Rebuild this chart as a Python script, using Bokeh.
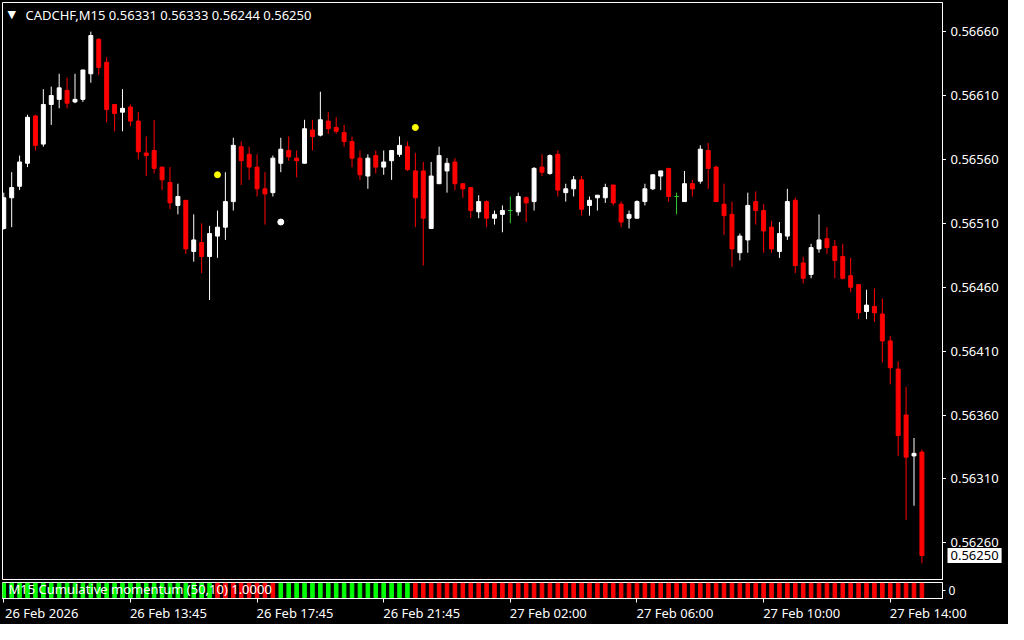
from bokeh.plotting import figure
from bokeh.models import Range1d, FixedTicker, PrintfTickFormatter, Label, ColumnDataSource, LinearAxis
from bokeh.layouts import column, row
from bokeh.embed import file_html
from bokeh.resources import INLINE

# ---------------- data ----------------
symbol_title = "CADCHF,M15  0.56331 0.56333 0.56244 0.56250"
indicator_title = "M15 Cumulative momentum (50,10) 1.0000"

opens = [0.56506, 0.56530, 0.56539, 0.56557, 0.56594, 0.56572, 0.56603, 0.56607, 0.56614, 0.56605,
         0.56607, 0.56627, 0.56654, 0.56636, 0.56603, 0.56597, 0.56601, 0.56590, 0.56565, 0.56567,
         0.56554, 0.56542, 0.56524, 0.56528, 0.56488, 0.56495, 0.56484, 0.56500, 0.56507, 0.56527,
         0.56570, 0.56564, 0.56554, 0.56537, 0.56534, 0.56557, 0.56567, 0.56561, 0.56557, 0.56583,
         0.56579, 0.56590, 0.56585, 0.56581, 0.56574, 0.56561, 0.56547, 0.56563, 0.56554, 0.56559,
         0.56564, 0.56570, 0.56551, 0.56551, 0.56506, 0.56541, 0.56551, 0.56558, 0.56541, 0.56538,
         0.56519, 0.56527, 0.56514, 0.56517, 0.56520, 0.56519, 0.56530, 0.56527, 0.56554, 0.56549,
         0.56564, 0.56534, 0.56537, 0.56544, 0.56524, 0.56530, 0.56530, 0.56540, 0.56525, 0.56514,
         0.56514, 0.56527, 0.56537, 0.56547, 0.56553, 0.56531, 0.56527, 0.56541, 0.56543, 0.56567,
         0.56554, 0.56525, 0.56517, 0.56487, 0.56497, 0.56527, 0.56520, 0.56507, 0.56488, 0.56500,
         0.56528, 0.56479, 0.56470, 0.56490, 0.56498, 0.56492, 0.56484, 0.56469, 0.56462, 0.56441,
         0.56445, 0.56439, 0.56418, 0.56396, 0.56360, 0.56328, 0.56331]
highs = [0.56534, 0.56550, 0.56563, 0.56595, 0.56595, 0.56615, 0.56617, 0.56627, 0.56624, 0.56627,
         0.56630, 0.56660, 0.56655, 0.56640, 0.56603, 0.56615, 0.56603, 0.56597, 0.56578, 0.56591,
         0.56554, 0.56554, 0.56541, 0.56528, 0.56517, 0.56510, 0.56508, 0.56520, 0.56550, 0.56577,
         0.56574, 0.56570, 0.56564, 0.56550, 0.56563, 0.56577, 0.56578, 0.56567, 0.56591, 0.56591,
         0.56613, 0.56597, 0.56593, 0.56587, 0.56578, 0.56567, 0.56564, 0.56567, 0.56567, 0.56567,
         0.56578, 0.56574, 0.56565, 0.56558, 0.56558, 0.56570, 0.56561, 0.56561, 0.56541, 0.56538,
         0.56532, 0.56528, 0.56520, 0.56524, 0.56531, 0.56534, 0.56531, 0.56554, 0.56564, 0.56564,
         0.56567, 0.56541, 0.56547, 0.56547, 0.56531, 0.56532, 0.56541, 0.56540, 0.56527, 0.56520,
         0.56528, 0.56541, 0.56548, 0.56551, 0.56553, 0.56534, 0.56551, 0.56544, 0.56571, 0.56573,
         0.56555, 0.56541, 0.56527, 0.56502, 0.56534, 0.56535, 0.56525, 0.56512, 0.56511, 0.56537,
         0.56530, 0.56484, 0.56494, 0.56517, 0.56507, 0.56497, 0.56494, 0.56483, 0.56462, 0.56458,
         0.56459, 0.56451, 0.56422, 0.56402, 0.56382, 0.56342, 0.56333]
lows = [0.56505, 0.56507, 0.56536, 0.56554, 0.56567, 0.56570, 0.56587, 0.56600, 0.56600, 0.56604,
        0.56605, 0.56620, 0.56626, 0.56589, 0.56582, 0.56582, 0.56586, 0.56560, 0.56547, 0.56549,
        0.56536, 0.56521, 0.56517, 0.56486, 0.56480, 0.56471, 0.56450, 0.56483, 0.56497, 0.56520,
        0.56540, 0.56544, 0.56531, 0.56509, 0.56531, 0.56550, 0.56559, 0.56546, 0.56557, 0.56567,
        0.56578, 0.56580, 0.56580, 0.56570, 0.56554, 0.56544, 0.56537, 0.56549, 0.56548, 0.56544,
        0.56562, 0.56551, 0.56507, 0.56477, 0.56506, 0.56541, 0.56534, 0.56536, 0.56530, 0.56514,
        0.56514, 0.56507, 0.56509, 0.56503, 0.56510, 0.56516, 0.56511, 0.56520, 0.56547, 0.56548,
        0.56531, 0.56527, 0.56531, 0.56516, 0.56516, 0.56520, 0.56526, 0.56524, 0.56507, 0.56506,
        0.56514, 0.56524, 0.56536, 0.56536, 0.56527, 0.56517, 0.56527, 0.56531, 0.56541, 0.56537,
        0.56527, 0.56501, 0.56476, 0.56481, 0.56487, 0.56509, 0.56487, 0.56487, 0.56483, 0.56497,
        0.56471, 0.56463, 0.56467, 0.56487, 0.56486, 0.56467, 0.56466, 0.56456, 0.56435, 0.56435,
        0.56433, 0.56401, 0.56384, 0.56328, 0.56278, 0.56289, 0.56244]
closes = [0.56530, 0.56538, 0.56558, 0.56593, 0.56571, 0.56603, 0.56610, 0.56616, 0.56604, 0.56607,
          0.56630, 0.56657, 0.56632, 0.56599, 0.56596, 0.56600, 0.56590, 0.56566, 0.56563, 0.56553,
          0.56544, 0.56526, 0.56531, 0.56490, 0.56497, 0.56484, 0.56502, 0.56507, 0.56527, 0.56571,
          0.56559, 0.56554, 0.56537, 0.56533, 0.56561, 0.56568, 0.56562, 0.56559, 0.56584, 0.56578,
          0.56591, 0.56584, 0.56582, 0.56574, 0.56561, 0.56548, 0.56561, 0.56554, 0.56558, 0.56567,
          0.56571, 0.56552, 0.56530, 0.56514, 0.56547, 0.56563, 0.56557, 0.56541, 0.56537, 0.56520,
          0.56527, 0.56514, 0.56517, 0.56520, 0.56520, 0.56531, 0.56526, 0.56553, 0.56550, 0.56563,
          0.56536, 0.56537, 0.56544, 0.56521, 0.56528, 0.56532, 0.56538, 0.56526, 0.56511, 0.56517,
          0.56527, 0.56537, 0.56548, 0.56551, 0.56531, 0.56531, 0.56541, 0.56537, 0.56568, 0.56553,
          0.56527, 0.56516, 0.56490, 0.56500, 0.56524, 0.56520, 0.56504, 0.56490, 0.56502, 0.56527,
          0.56477, 0.56467, 0.56491, 0.56497, 0.56491, 0.56481, 0.56467, 0.56460, 0.56440, 0.56446,
          0.56440, 0.56418, 0.56397, 0.56344, 0.56327, 0.56330, 0.56250]

# momentum direction per bar: 1 = up (green), -1 = down (red)
momentum_dir = [1, 1, 1, 1, 1, 1, 1, 1, 1, 1, 1, 1, 1, 1, 1, 1, 1, 1, 1, 1,
                1, 1, 1, 1, 1, 1, 1, -1, -1, -1, -1, -1, -1, -1, -1, 1, 1, 1, 1, 1,
                1, 1, 1, 1, 1, 1, 1, 1, 1, 1, 1, 1, -1, -1, -1, -1, -1, -1, -1, -1,
                -1, -1, -1, -1, -1, -1, -1, -1, -1, -1, -1, -1, -1, -1, -1, -1, -1, -1, -1, -1,
                -1, -1, -1, -1, -1, -1, -1, -1, -1, -1, -1, -1, -1, -1, -1, -1, -1, -1, -1, -1,
                -1, -1, -1, -1, -1, -1, -1, -1, -1, -1, -1, -1, -1, -1, -1, -1, -1]

yellow_signal_bar = [27, 52]
yellow_signal_price = [0.56548, 0.56585]
white_signal_bar = [35]
white_signal_price = [0.56511]

price_ticks = [0.56260, 0.56310, 0.56360, 0.56410, 0.56460, 0.56510, 0.56560, 0.56610, 0.56660]
time_tick_bars = [0, 16, 32, 48, 64, 80, 96, 112]
time_tick_labels = ["26 Feb 2026", "26 Feb 13:45", "26 Feb 17:45", "26 Feb 21:45",
                    "27 Feb 02:00", "27 Feb 06:00", "27 Feb 10:00", "27 Feb 14:00"]
last_price = 0.56250

# ---------------- build ----------------
FONT = "Noto Sans"
WHITE = "white"
bars = list(range(len(opens)))
UP, DOWN, DOJI = "#ffffff", "#ff0000", "#32cd32"
cols = [UP if c > o else (DOWN if c < o else DOJI) for o, c in zip(opens, closes)]
src = ColumnDataSource(dict(
    x=bars, high=highs, low=lows,
    top=[max(o, c) for o, c in zip(opens, closes)],
    bottom=[min(o, c) for o, c in zip(opens, closes)],
    color=cols))

x_range = Range1d(-0.16, 118.6)
y_range = Range1d(0.562305, 0.566828)

def dark(fig):
    fig.grid.visible = False
    fig.background_fill_color = "black"
    fig.border_fill_color = "black"

# main price pane (frame + tick marks only)
main = figure(width=946, height=580, x_range=x_range, y_range=y_range,
              output_backend="svg", toolbar_location=None, x_axis_location=None,
              y_axis_location="right",
              min_border_left=2, min_border_right=4, min_border_top=2, min_border_bottom=0)
dark(main)
main.outline_line_color = WHITE
main.outline_line_width = 1

main.segment(x0="x", y0="high", x1="x", y1="low", color="color", line_width=1, source=src)
main.vbar(x="x", top="top", bottom="bottom", width=0.5, fill_color="color",
          line_color="color", line_width=1, source=src)
main.scatter(yellow_signal_bar, yellow_signal_price, size=6, color="#ffff00")
main.scatter(white_signal_bar, white_signal_price, size=6, color="#ffffff")

ya = main.yaxis[0]
ya.ticker = FixedTicker(ticks=price_ticks)
ya.major_label_overrides = {t: "" for t in price_ticks}
ya.major_label_text_font_size = "0px"
ya.major_label_standoff = 0
ya.axis_line_color = WHITE
ya.major_tick_line_color = WHITE
ya.major_tick_in = 0
ya.major_tick_out = 4
ya.minor_tick_line_color = None

main.add_layout(Label(x=5, y=566, x_units="screen", y_units="screen", text="\u25bc",
                      text_color=WHITE, text_font="DejaVu Sans", text_font_size="11px",
                      text_baseline="middle"))
main.add_layout(Label(x=23, y=566, x_units="screen", y_units="screen", text=symbol_title,
                      text_color=WHITE, text_font=FONT, text_font_size="13px",
                      text_baseline="middle"))

# price-scale strip (tick labels + current price box)
strip = figure(width=62, height=580, x_range=Range1d(0, 1), y_range=y_range,
               output_backend="svg", toolbar_location=None, x_axis_location=None,
               y_axis_location="right",
               min_border_left=0, min_border_right=0, min_border_top=2, min_border_bottom=0)
dark(strip)
strip.outline_line_color = None
sa = strip.yaxis[0]
sa.ticker = FixedTicker(ticks=price_ticks)
sa.formatter = PrintfTickFormatter(format="%.5f")
sa.axis_line_color = None
sa.major_tick_line_color = None
sa.major_tick_in = 0
sa.major_tick_out = 0
sa.minor_tick_line_color = None
sa.major_label_standoff = -58
sa.major_label_text_color = WHITE
sa.major_label_text_font = FONT
sa.major_label_text_font_size = "13px"
strip.add_layout(Label(x=1, y=last_price, x_units="screen", y_units="data",
                       text=f"{last_price:.5f}", text_color="black", text_font=FONT,
                       text_font_size="13px", text_baseline="middle",
                       background_fill_color="white", padding=3))

# indicator pane
ind = figure(width=1008, height=44, x_range=x_range, y_range=Range1d(-0.05, 1.05),
             output_backend="svg", toolbar_location=None, y_axis_location="right",
             min_border_left=2, min_border_right=66, min_border_top=2, min_border_bottom=0)
dark(ind)
ind.outline_line_color = WHITE
ind.vbar(x=bars, top=[1] * len(bars), bottom=0, width=0.45,
         color=["#00ff00" if d > 0 else "#ff0000" for d in momentum_dir])

xa = ind.xaxis[0]
xa.ticker = FixedTicker(ticks=time_tick_bars)
xa.major_label_overrides = {b: "" for b in time_tick_bars}
xa.major_label_text_font_size = "0px"
xa.major_label_standoff = 0
xa.axis_line_color = WHITE
xa.major_tick_line_color = WHITE
xa.major_tick_in = 0
xa.major_tick_out = 4
xa.minor_tick_line_color = None

# time labels start at their tick (left-aligned), so centre them half a label to the right
label_shift = 4.8
label_pos = [round(b + label_shift, 3) for b in time_tick_bars]
xl = LinearAxis(ticker=FixedTicker(ticks=label_pos),
                major_label_overrides={p: t for p, t in zip(label_pos, time_tick_labels)},
                axis_line_color=None, major_tick_line_color=None, minor_tick_line_color=None,
                major_tick_in=0, major_tick_out=0, major_label_standoff=1,
                major_label_text_color=WHITE, major_label_text_font=FONT,
                major_label_text_font_size="13px")
ind.add_layout(xl, "below")

iy = ind.yaxis[0]
iy.ticker = FixedTicker(ticks=[0.5])
iy.major_label_overrides = {0.5: "0"}
iy.axis_line_color = WHITE
iy.major_tick_line_color = WHITE
iy.major_tick_in = 0
iy.major_tick_out = 3
iy.minor_tick_line_color = None
iy.major_label_text_color = WHITE
iy.major_label_text_font = FONT
iy.major_label_text_font_size = "12px"
iy.major_label_standoff = 3

ind.add_layout(Label(x=6, y=10, x_units="screen", y_units="screen", text=indicator_title,
                     text_color=WHITE, text_font=FONT, text_font_size="13px",
                     text_baseline="middle"))

layout = column(row(main, strip, spacing=0), ind, spacing=0,
                styles={"background-color": "black"})
open("out.html", "w").write(file_html(layout, INLINE))
